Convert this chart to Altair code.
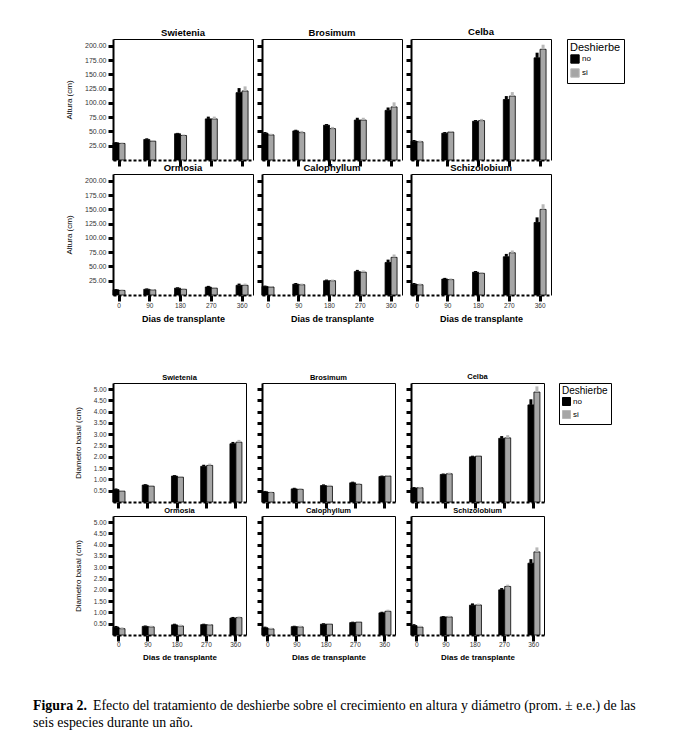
import altair as alt
import pandas as pd

dias = [0, 90, 180, 270, 360]
especies = ["Swietenia", "Brosimum", "Celba", "Ormosia", "Calophyllum", "Schizolobium"]
deshierbe = ["no", "si"]

# Altura (cm): promedio y error estandar
altura_no = {
    "Swietenia":    [30, 36, 46, 72, 118],
    "Brosimum":     [47, 51, 61, 70, 87],
    "Celba":        [33, 47, 68, 106, 179],
    "Ormosia":      [9, 10, 12, 14, 17],
    "Calophyllum":  [15, 19, 25, 41, 57],
    "Schizolobium": [19, 28, 40, 67, 127],
}
altura_si = {
    "Swietenia":    [29, 33, 43, 72, 121],
    "Brosimum":     [44, 48, 55, 70, 93],
    "Celba":        [32, 49, 69, 112, 194],
    "Ormosia":      [8, 9, 10, 12, 17],
    "Calophyllum":  [14, 18, 25, 40, 66],
    "Schizolobium": [18, 27, 38, 74, 150],
}
altura_ee_no = {
    "Swietenia":    [1.5, 2, 1.5, 4, 8],
    "Brosimum":     [2, 2, 2, 4, 5],
    "Celba":        [2, 2, 2, 6, 9],
    "Ormosia":      [1.5, 1.5, 1.5, 2, 3],
    "Calophyllum":  [1.5, 2, 2, 3, 5],
    "Schizolobium": [2, 2, 2, 5, 9],
}
altura_ee_si = {
    "Swietenia":    [1.5, 2, 1.5, 4, 8],
    "Brosimum":     [2, 3, 3, 4, 8],
    "Celba":        [2, 2, 3, 7, 8],
    "Ormosia":      [1.5, 1.5, 1.5, 2, 3],
    "Calophyllum":  [1.5, 2, 2, 3, 5],
    "Schizolobium": [2, 2, 2, 4, 9],
}

# Diametro basal (cm): promedio y error estandar
diam_no = {
    "Swietenia":    [0.55, 0.75, 1.15, 1.58, 2.58],
    "Brosimum":     [0.45, 0.58, 0.73, 0.85, 1.13],
    "Celba":        [0.62, 1.22, 2.00, 2.82, 4.30],
    "Ormosia":      [0.35, 0.38, 0.45, 0.46, 0.75],
    "Calophyllum":  [0.32, 0.37, 0.48, 0.55, 0.98],
    "Schizolobium": [0.42, 0.80, 1.32, 2.00, 3.18],
}
diam_si = {
    "Swietenia":    [0.48, 0.70, 1.10, 1.62, 2.65],
    "Brosimum":     [0.42, 0.56, 0.70, 0.78, 1.15],
    "Celba":        [0.63, 1.25, 2.03, 2.84, 4.87],
    "Ormosia":      [0.28, 0.36, 0.40, 0.45, 0.77],
    "Calophyllum":  [0.27, 0.36, 0.48, 0.57, 1.05],
    "Schizolobium": [0.35, 0.80, 1.33, 2.15, 3.68],
}
diam_ee_no = {
    "Swietenia":    [0.05, 0.04, 0.04, 0.07, 0.08],
    "Brosimum":     [0.04, 0.05, 0.05, 0.05, 0.04],
    "Celba":        [0.04, 0.04, 0.05, 0.10, 0.25],
    "Ormosia":      [0.05, 0.04, 0.05, 0.04, 0.05],
    "Calophyllum":  [0.05, 0.04, 0.04, 0.04, 0.05],
    "Schizolobium": [0.06, 0.04, 0.08, 0.08, 0.18],
}
diam_ee_si = {
    "Swietenia":    [0.05, 0.05, 0.05, 0.08, 0.10],
    "Brosimum":     [0.04, 0.05, 0.06, 0.06, 0.04],
    "Celba":        [0.04, 0.05, 0.05, 0.12, 0.25],
    "Ormosia":      [0.06, 0.05, 0.06, 0.04, 0.05],
    "Calophyllum":  [0.05, 0.05, 0.04, 0.04, 0.07],
    "Schizolobium": [0.06, 0.05, 0.06, 0.08, 0.20],
}

altura_ticks = [25, 50, 75, 100, 125, 150, 175, 200]
diam_ticks = [0.5, 1.0, 1.5, 2.0, 2.5, 3.0, 3.5, 4.0, 4.5, 5.0]

caption_bold = "Figura 2."
caption_line1 = ("Efecto del tratamiento de deshierbe sobre el crecimiento en altura y "
                 "diámetro (prom. ± e.e.) de las")
caption_line2 = "seis especies durante un año."

FONT = "Liberation Sans"
color_scale = alt.Scale(domain=deshierbe, range=["#000000", "#a6a6a6"])
err_scale = alt.Scale(domain=deshierbe, range=["#000000", "#b8b8b8"])


def build_df(no, si, ee_no, ee_si):
    rows = []
    for sp in especies:
        for i, d in enumerate(dias):
            rows.append({"especie": sp, "dias": d, "deshierbe": "no",
                         "valor": no[sp][i], "hi": no[sp][i] + ee_no[sp][i]})
            rows.append({"especie": sp, "dias": d, "deshierbe": "si",
                         "valor": si[sp][i], "hi": si[sp][i] + ee_si[sp][i]})
    return pd.DataFrame(rows)


def panel(df, sp, s):
    idx = especies.index(sp)
    first_col = idx % 3 == 0
    bottom = idx // 3 == 1
    xscale = alt.Scale(paddingInner=0.61, paddingOuter=0.08, align=0)
    yscale = alt.Scale(domain=s["ydom"], nice=False, zero=True)
    xoff = alt.XOffset("deshierbe:N", sort=deshierbe,
                       scale=alt.Scale(paddingInner=0, paddingOuter=0))
    x_axis = alt.Axis(orient="bottom", labels=bottom,
                      title="Dias de transplante" if bottom else "",
                      labelAngle=0, labelFontSize=s["xlab"], labelColor="#333333",
                      labelPadding=s["xlabpad"], tickSize=6, tickWidth=3, tickColor="black",
                      domainColor="black", domainWidth=2, domainDash=[3, 2],
                      titleFontSize=s["xtitle"], titleFontWeight="bold",
                      titlePadding=s["xtitlepad"], grid=False)
    y_axis = alt.Axis(orient="left", values=s["yticks"], format=".2f",
                      labels=first_col, title=s["ytitle"] if first_col else "",
                      labelFontSize=s["ylab"], labelColor="#333333", labelPadding=2,
                      tickSize=5, tickWidth=3, tickColor="black",
                      domainColor="black", domainWidth=2,
                      titleFontSize=8, titleFontWeight="normal", titlePadding=11,
                      grid=False)
    x_top = alt.Axis(orient="top", labels=False, ticks=False, title="",
                     domainColor="black", domainWidth=1, grid=False)
    y_right = alt.Axis(orient="right", labels=False, ticks=False, title="",
                       domainColor="black", domainWidth=1, grid=False)
    if sp == "Celba":
        legend = alt.Legend(title="Deshierbe", orient="right", offset=s["legoff"],
                            strokeColor="black", padding=3,
                            titleFontSize=s["legtitle"], titleFontWeight="normal",
                            titlePadding=1, labelFontSize=8, labelOffset=2,
                            symbolType="square", symbolSize=s["legsym"],
                            symbolStrokeColor="black", symbolStrokeWidth=1,
                            rowPadding=0)
    else:
        legend = None
    bars = alt.Chart().mark_bar(stroke="black", strokeWidth=0.8).encode(
        x=alt.X("dias:O", sort=dias, scale=xscale, axis=x_axis),
        xOffset=xoff,
        y=alt.Y("valor:Q", scale=yscale, axis=y_axis),
        color=alt.Color("deshierbe:N", scale=color_scale, legend=legend),
    )
    err = alt.Chart().mark_rule(strokeWidth=3).encode(
        x=alt.X("dias:O", sort=dias, scale=xscale, axis=x_top),
        xOffset=xoff,
        y=alt.Y("valor:Q", scale=yscale, axis=y_right),
        y2="hi:Q",
        stroke=alt.Stroke("deshierbe:N", scale=err_scale, legend=None),
    )
    return alt.layer(bars, err, data=df).transform_filter(
        alt.datum.especie == sp
    ).resolve_axis(x="independent", y="independent").properties(
        width=s["w"], height=s["h"],
        title=alt.TitleParams(sp, fontSize=s["ptitle"], fontWeight="bold",
                              offset=2, anchor="middle", color="black"),
    )


style1 = dict(ydom=[0, 212], yticks=altura_ticks, ytitle="Altura (cm)", w=140, h=121,
              xlab=6.5, xlabpad=1, ylab=7, xtitle=9, xtitlepad=6,
              ptitle=9.5, legoff=16, legtitle=11, legsym=70)
style2 = dict(ydom=[0, 5.27], yticks=diam_ticks, ytitle="Diametro basal (cm)", w=133, h=119,
              xlab=6.5, xlabpad=0, ylab=6.5, xtitle=8, xtitlepad=6,
              ptitle=7.5, legoff=15, legtitle=10, legsym=64)

df_altura = build_df(altura_no, altura_si, altura_ee_no, altura_ee_si)
df_diam = build_df(diam_no, diam_si, diam_ee_no, diam_ee_si)


def blank(w, h):
    return alt.Chart(alt.Data(values=[{"t": ""}])).mark_text().encode(
        text="t:N", x=alt.value(0), y=alt.value(0)
    ).properties(width=w, height=h)


def cap_text(txt, x, y, weight):
    return alt.Chart(alt.Data(values=[{"t": txt}])).mark_text(
        align="left", baseline="alphabetic", font="Liberation Serif", fontSize=13.9,
        fontWeight=weight, color="black"
    ).encode(text="t:N", x=alt.value(x), y=alt.value(y))


caption = alt.layer(
    cap_text(caption_bold, -80, 61, "bold"),
    cap_text(caption_line1, -20, 61, "normal"),
    cap_text(caption_line2, -80, 78, "normal"),
).properties(width=100, height=60)

cells = [panel(df_altura, sp, style1) for sp in especies]
cells += [blank(10, 60) for _ in range(3)]
cells += [panel(df_diam, sp, style2) for sp in especies]
cells += [caption]

chart = alt.concat(
    *cells, columns=3, bounds="flush", spacing={"row": 14, "column": 9}
).resolve_legend(color="independent").resolve_scale(
    color="independent", stroke="independent"
).properties(
    padding={"left": 24, "top": 18, "right": 5, "bottom": 5}
).configure(font=FONT).configure_view(stroke="transparent").configure_axis(
    labelFont=FONT, titleFont=FONT
).configure_legend(labelFont=FONT, titleFont=FONT).configure_title(font=FONT)

chart.save("out.html", embed_options={"renderer": "svg", "actions": False})
